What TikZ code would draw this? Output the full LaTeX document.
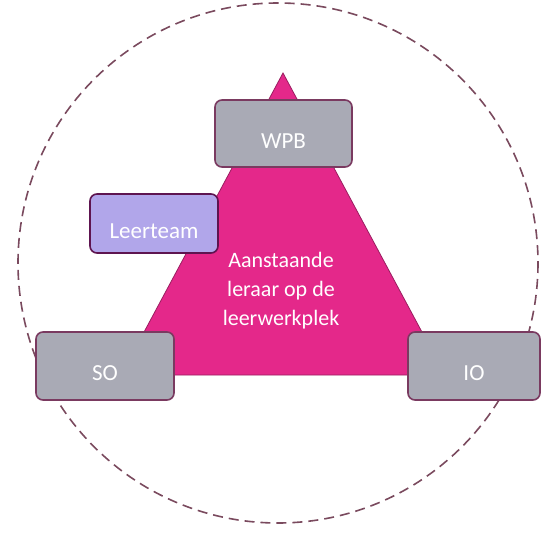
\documentclass[tikz,border=0pt]{standalone}
\usepackage{fontspec}
\setmainfont{Carlito}
\definecolor{pinkt}{HTML}{E4288A}
\definecolor{pinkb}{HTML}{9A1E60}
\definecolor{greyb}{HTML}{A9AAB5}
\definecolor{bordc}{HTML}{7A3A60}
\definecolor{lilac}{HTML}{B1A6EA}
\definecolor{lilacb}{HTML}{5E1450}
\definecolor{circc}{HTML}{7A4A5E}
\begin{document}
\begin{tikzpicture}[x=1pt,y=-1pt,
  box/.style={draw=bordc,line width=1.6pt,fill=greyb,rounded corners=7pt,text=white,font=\fontsize{23}{26}\selectfont,inner sep=0pt,text height=29pt,text depth=0pt},
]
\useasboundingbox (0,0) rectangle (544,533);
\draw[circc,line width=1.6pt,dash pattern=on 10pt off 6pt] (278,263) circle (260);
\filldraw[fill=pinkt,draw=pinkb,line width=0.8pt] (283,73) -- (445,375) -- (121,375) -- cycle;
\node[box,minimum width=137pt,minimum height=67pt] (wpb) at (283.5,133.5) {WPB};
\node[box,fill=lilac,draw=lilacb,minimum width=128pt,minimum height=59pt] (lt) at (154,223.5) {Leerteam};
\node[box,minimum width=138pt,minimum height=68pt] (so) at (105,366) {SO};
\node[box,minimum width=132pt,minimum height=68pt] (io) at (474,366) {IO};
\node[text=white,align=center,font=\fontsize{22}{29}\selectfont] (c) at (281,291) {Aanstaande\\leraar op de\\leerwerkplek};
\end{tikzpicture}
\end{document}
